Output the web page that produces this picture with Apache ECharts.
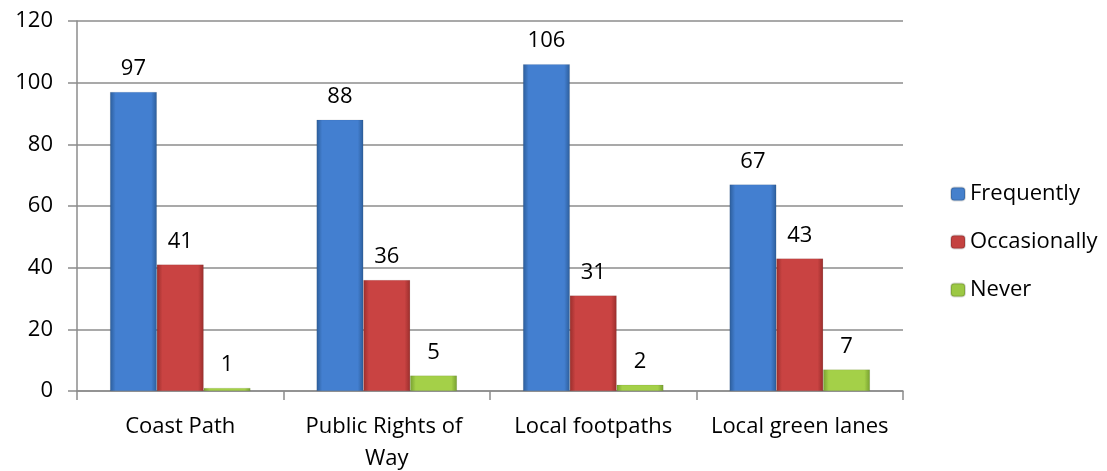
<!DOCTYPE html>
<html><head><meta charset="utf-8">
<script src="https://cdn.jsdelivr.net/npm/echarts@6/dist/echarts.min.js"></script>
<style>html,body{margin:0;padding:0;background:#fff}#c{width:1107px;height:471px}</style>
</head><body><div id="c"></div>
<script>
const categories = ['Coast Path', 'Public Rights of Way', 'Local footpaths', 'Local green lanes'];
const frequently = [97, 88, 106, 67];
const occasionally = [41, 36, 31, 43];
const never = [1, 5, 2, 7];
const seriesNames = ['Frequently', 'Occasionally', 'Never'];

const FONT = 'Open Sans';
const FS = 22;
function grad(dark, light) {
  return new echarts.graphic.LinearGradient(0, 0, 1, 0, [
    {offset: 0, color: dark}, {offset: 0.12, color: light}, {offset: 0.88, color: light}, {offset: 1, color: dark}
  ]);
}
const colors = [grad('#2c5d9a', '#437fd0'), grad('#9a2e2c', '#c94342'), grad('#77a030', '#a4d048')];
const legendColors = ['#4580cc', '#c44240', '#9cc844'];
const label = {show: true, position: 'top', distance: 12, color: '#000', fontFamily: FONT, fontSize: FS};
function mk(name, data, i) {
  return {name, type: 'bar', data, barGap: 0, barCategoryGap: '32%',
    itemStyle: {color: colors[i], borderColor: 'rgba(0,0,0,0.15)', borderWidth: 0.5},
    label, emphasis: {disabled: true}};
}
const chart = echarts.init(document.getElementById('c'));
chart.setOption({
  animation: false,
  color: legendColors,
  grid: {left: 77, right: 204, top: 21, bottom: 80, containLabel: false, outerBoundsMode: 'none'},
  legend: {orient: 'vertical', left: 945, top: 178, itemWidth: 14, itemHeight: 13, itemGap: 26,
    textStyle: {fontFamily: FONT, fontSize: FS, color: '#000'},
    data: seriesNames.map((n, i) => ({name: n, itemStyle: {color: legendColors[i]}}))},
  xAxis: {type: 'category', data: categories,
    axisLine: {lineStyle: {color: '#8c8c8c', width: 1.5}},
    axisTick: {show: true, length: 9, lineStyle: {color: '#8c8c8c', width: 1.5}},
    axisLabel: {margin: 20, color: '#000', fontFamily: FONT, fontSize: FS, width: 184, overflow: 'break', lineHeight: 32, interval: 0}},
  yAxis: {type: 'value', min: 0, max: 120, interval: 20,
    axisLine: {show: true, lineStyle: {color: '#8c8c8c', width: 1.5}},
    axisTick: {show: true, length: 9, lineStyle: {color: '#8c8c8c', width: 1.5}},
    splitLine: {lineStyle: {color: '#8c8c8c', width: 1.5}},
    axisLabel: {margin: 24, color: '#000', fontFamily: FONT, fontSize: FS}},
  series: [mk(seriesNames[0], frequently, 0), mk(seriesNames[1], occasionally, 1), mk(seriesNames[2], never, 2)]
});
</script></body></html>
